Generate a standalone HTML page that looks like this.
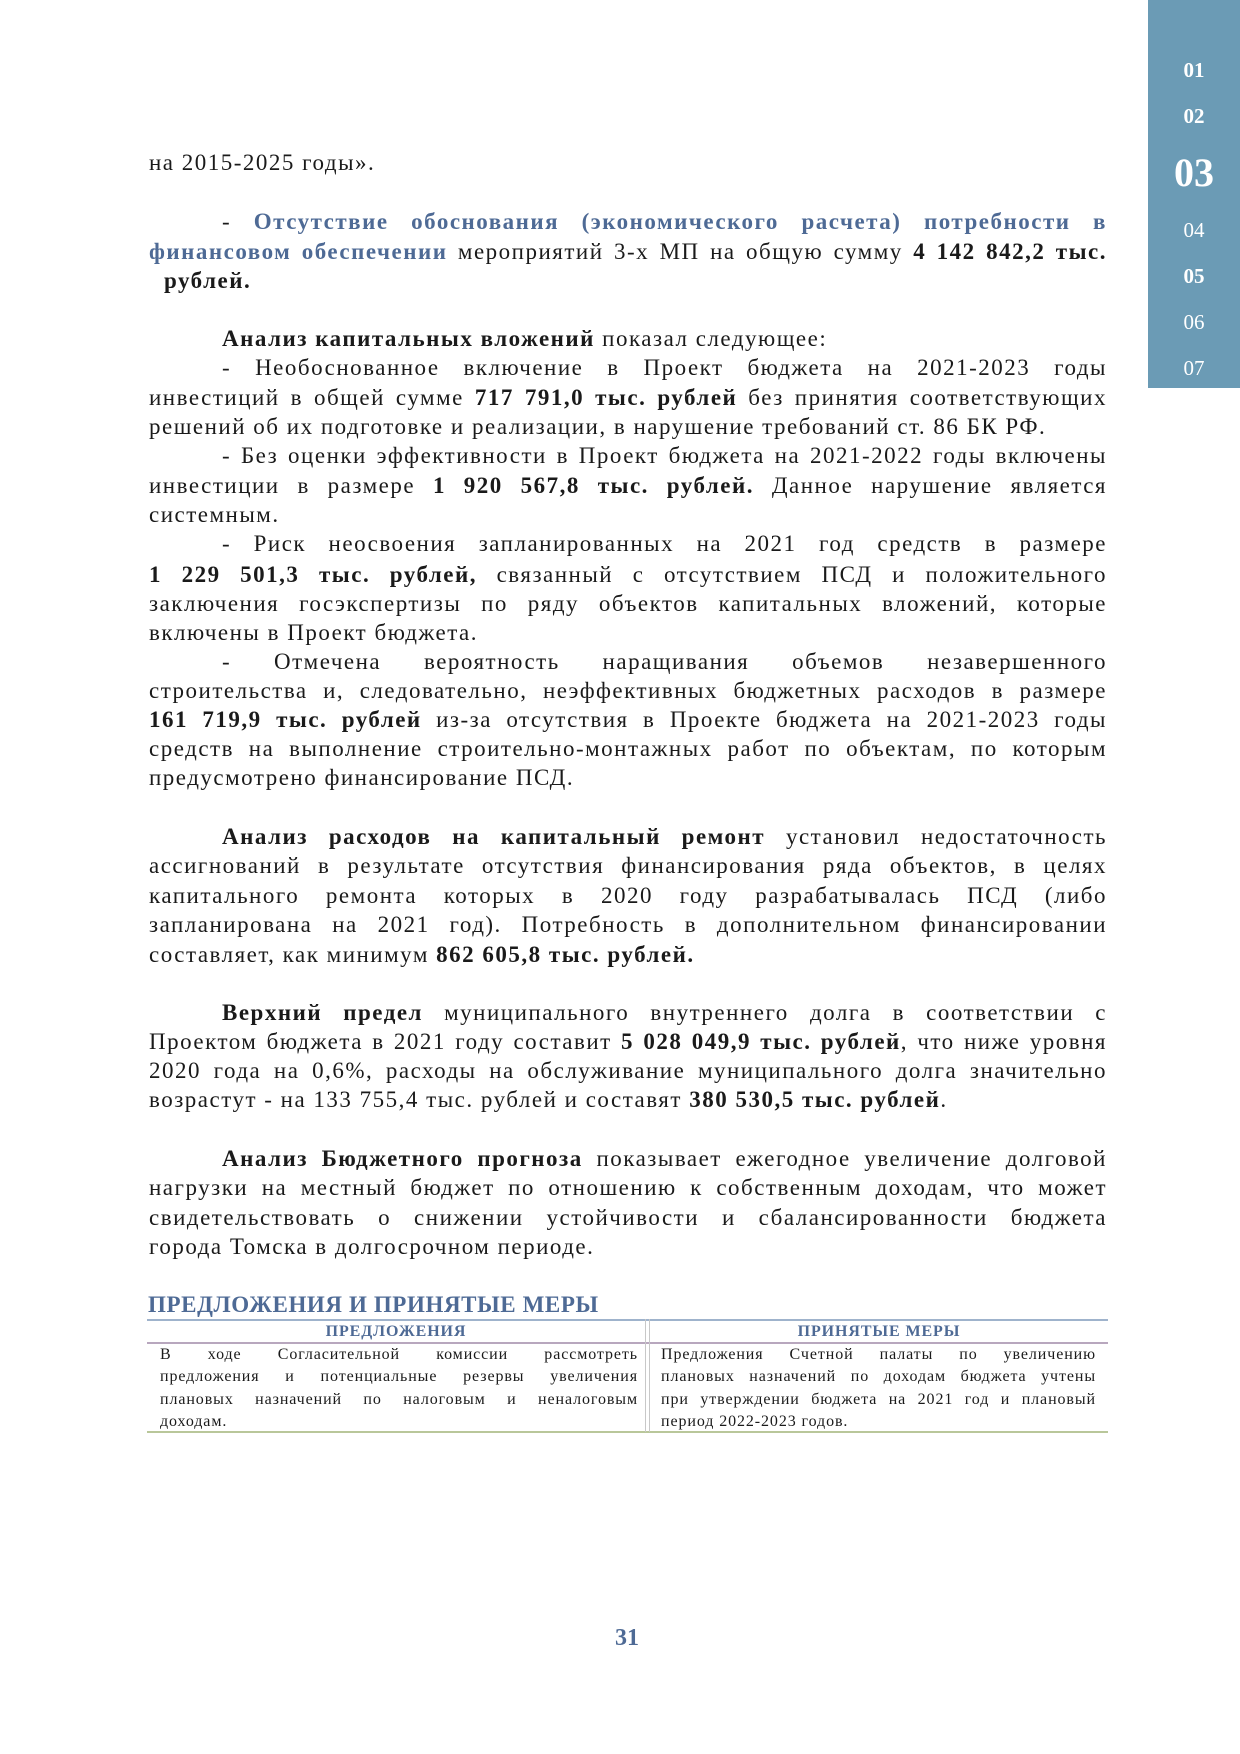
<!DOCTYPE html>
<html><head><meta charset="utf-8"><style>
body{margin:0;width:1240px;height:1754px;background:#fff;position:relative;overflow:hidden;font-family:"Liberation Serif",serif;color:#1a1a1a}
.l{position:absolute;left:149px;width:958px;height:30px;line-height:30px;font-size:23px;letter-spacing:1.5px;white-space:nowrap}
.j{text-align:justify;text-align-last:justify;white-space:normal}
.i{padding-left:73px;width:885px}
.b{color:#4e6a95;font-weight:bold}
.sb{position:absolute;left:1148px;top:0;width:92px;height:388px;background:#6b9bb5}
.n{position:absolute;left:1148px;width:92px;text-align:center;color:#fff;font-size:21px;line-height:30px;height:30px}
.t{position:absolute;font-size:16px;letter-spacing:0.9px;line-height:22px;height:22px;white-space:nowrap}
</style></head><body>
<div class="sb"></div>
<div class="n" style="top:55px;font-weight:bold">01</div>
<div class="n" style="top:101px;font-weight:bold">02</div>
<div class="n" style="top:150px;font-weight:bold;font-size:40px;line-height:46px;height:46px">03</div>
<div class="n" style="top:215px">04</div>
<div class="n" style="top:261px;font-weight:bold">05</div>
<div class="n" style="top:307px">06</div>
<div class="n" style="top:353px">07</div>

<div class="l" style="top:148px">на 2015-2025 годы».</div>
<div class="l j i" style="top:207px">- <span class="b">Отсутствие обоснования (экономического расчета) потребности в</span></div>
<div class="l j" style="top:237px"><span class="b">финансовом обеспечении</span> мероприятий 3-х МП на общую сумму <b>4 142 842,2 тыс.</b></div>
<div class="l" style="top:266px;padding-left:15px"><b>рублей.</b></div>

<div class="l i" style="top:324px"><b>Анализ капитальных вложений</b> показал следующее:</div>
<div class="l j i" style="top:353px">- Необоснованное включение в Проект бюджета на 2021-2023 годы</div>
<div class="l j" style="top:383px">инвестиций в общей сумме <b>717 791,0 тыс. рублей</b> без принятия соответствующих</div>
<div class="l" style="top:412px">решений об их подготовке и реализации, в нарушение требований ст. 86 БК РФ.</div>
<div class="l j i" style="top:441px">- Без оценки эффективности в Проект бюджета на 2021-2022 годы включены</div>
<div class="l j" style="top:471px">инвестиции в размере <b>1 920 567,8 тыс. рублей.</b> Данное нарушение является</div>
<div class="l" style="top:500px">системным.</div>
<div class="l j i" style="top:529px">- Риск неосвоения запланированных на 2021 год средств в размере</div>
<div class="l j" style="top:560px"><b>1 229 501,3 тыс. рублей,</b> связанный с отсутствием ПСД и положительного</div>
<div class="l j" style="top:589px">заключения госэкспертизы по ряду объектов капитальных вложений, которые</div>
<div class="l" style="top:618px">включены в Проект бюджета.</div>
<div class="l j i" style="top:647px">- Отмечена вероятность наращивания объемов незавершенного</div>
<div class="l j" style="top:676px">строительства и, следовательно, неэффективных бюджетных расходов в размере</div>
<div class="l j" style="top:705px"><b>161 719,9 тыс. рублей</b> из-за отсутствия в Проекте бюджета на 2021-2023 годы</div>
<div class="l j" style="top:734px">средств на выполнение строительно-монтажных работ по объектам, по которым</div>
<div class="l" style="top:763px">предусмотрено финансирование ПСД.</div>

<div class="l j i" style="top:822px"><b>Анализ расходов на капитальный ремонт</b> установил недостаточность</div>
<div class="l j" style="top:851px">ассигнований в результате отсутствия финансирования ряда объектов, в целях</div>
<div class="l j" style="top:881px">капитального ремонта которых в 2020 году разрабатывалась ПСД (либо</div>
<div class="l j" style="top:910px">запланирована на 2021 год). Потребность в дополнительном финансировании</div>
<div class="l" style="top:940px">составляет, как минимум <b>862 605,8 тыс. рублей.</b></div>

<div class="l j i" style="top:998px"><b>Верхний предел</b> муниципального внутреннего долга в соответствии с</div>
<div class="l j" style="top:1027px">Проектом бюджета в 2021 году составит <b>5 028 049,9 тыс. рублей</b>, что ниже уровня</div>
<div class="l j" style="top:1056px">2020 года на 0,6%, расходы на обслуживание муниципального долга значительно</div>
<div class="l" style="top:1085px">возрастут - на 133 755,4 тыс. рублей и составят <b>380 530,5 тыс. рублей</b>.</div>

<div class="l j i" style="top:1144px"><b>Анализ Бюджетного прогноза</b> показывает ежегодное увеличение долговой</div>
<div class="l j" style="top:1173px">нагрузки на местный бюджет по отношению к собственным доходам, что может</div>
<div class="l j" style="top:1203px">свидетельствовать о снижении устойчивости и сбалансированности бюджета</div>
<div class="l" style="top:1232px">города Томска в долгосрочном периоде.</div>

<div style="position:absolute;left:148px;top:1291px;font-size:23px;letter-spacing:0.6px;line-height:28px;font-weight:bold;color:#4e6a95">ПРЕДЛОЖЕНИЯ И ПРИНЯТЫЕ МЕРЫ</div>
<div style="position:absolute;left:147px;top:1319px;width:961px;height:2px;background:#9fb3cc"></div>
<div style="position:absolute;left:147px;top:1342px;width:961px;height:2px;background:#b8a7be"></div>
<div style="position:absolute;left:147px;top:1431px;width:961px;height:2px;background:#b9c79a"></div>
<div style="position:absolute;left:645px;top:1319px;width:1px;height:113px;background:#c8c8c8"></div>
<div style="position:absolute;left:649px;top:1319px;width:1px;height:113px;background:#c8c8c8"></div>
<div class="t" style="left:147px;width:498px;top:1321px;text-align:center;font-weight:bold;color:#4e6a95">ПРЕДЛОЖЕНИЯ</div>
<div class="t" style="left:650px;width:458px;top:1321px;text-align:center;font-weight:bold;color:#4e6a95">ПРИНЯТЫЕ МЕРЫ</div>
<div class="t j" style="left:160px;width:478px;top:1344px">В ходе Согласительной комиссии рассмотреть</div>
<div class="t j" style="left:160px;width:478px;top:1366px">предложения и потенциальные резервы увеличения</div>
<div class="t j" style="left:160px;width:478px;top:1389px">плановых назначений по налоговым и неналоговым</div>
<div class="t" style="left:160px;top:1411px">доходам.</div>
<div class="t j" style="left:661px;width:435px;top:1344px">Предложения Счетной палаты по увеличению</div>
<div class="t j" style="left:661px;width:435px;top:1366px">плановых назначений по доходам бюджета учтены</div>
<div class="t j" style="left:661px;width:435px;top:1389px">при утверждении бюджета на 2021 год и плановый</div>
<div class="t" style="left:661px;top:1411px">период 2022-2023 годов.</div>

<div style="position:absolute;left:587px;width:80px;top:1623px;text-align:center;font-size:24px;font-weight:bold;color:#4e6a95;line-height:30px">31</div>
</body></html>
